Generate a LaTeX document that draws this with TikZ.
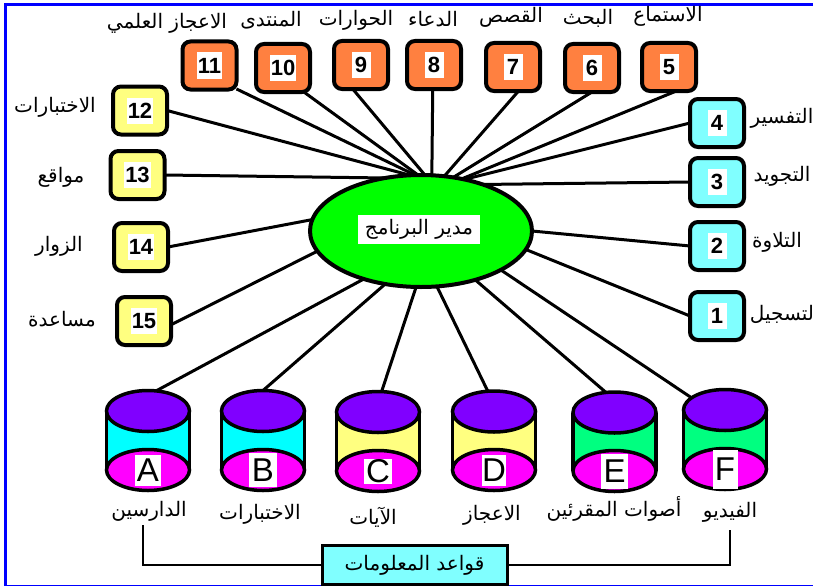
\documentclass[tikz,border=0pt]{standalone}
\usepackage{fontspec}
\newfontfamily\arabicfont[Script=Arabic]{DejaVu Sans}
\newfontfamily\latinfont{Liberation Sans}
\TeXXeTstate=1
\usetikzlibrary{backgrounds}
\usetikzlibrary{shapes.geometric}
\definecolor{orangebox}{HTML}{FF8040}
\definecolor{cyanlt}{HTML}{80FFFF}
\definecolor{yellowlt}{HTML}{FFFF80}
\definecolor{storecyan}{HTML}{00FFFF}
\definecolor{storegreen}{HTML}{00FF80}
\definecolor{violetdb}{HTML}{8000FF}
\definecolor{magentadb}{HTML}{FF00FF}
\definecolor{mgrgreen}{HTML}{00FF00}
\definecolor{framblue}{HTML}{0000FF}
\newcommand{\ar}[1]{{\arabicfont\beginR #1\endR}}

\begin{document}
\begin{tikzpicture}[x=1pt,y=-1pt,inner sep=0pt,outer sep=0pt,
numblock/.style={draw,rectangle,rounded corners=8pt,line width=4pt,minimum width=54pt,minimum height=48pt},
numtext/.style={fill=white,font=\latinfont\bfseries\fontsize{22}{24}\selectfont,inner xsep=1pt,minimum height=26pt,minimum width=19pt},
arlabel/.style={font=\fontsize{20}{24}\selectfont},
spoke/.style={line width=3pt},
dbdisk/.style={draw,ellipse,line width=3.5pt,minimum width=83pt,minimum height=41pt},
dbletter/.style={fill=white,font=\latinfont\fontsize{33}{36}\selectfont}]

\useasboundingbox (0,0) rectangle (813,586);

% frame
\fill[framblue] (4,3) rectangle (813,6);
\fill[framblue] (4,3) rectangle (7,586);
\fill[framblue] (4,584.5) rectangle (813,586);

% manager
\node[draw,ellipse,line width=4pt,fill=mgrgreen,minimum width=222pt,minimum height=112pt] (mgr) at (421,231) {};
\node[fill=white,minimum width=122pt,minimum height=29pt,arlabel] (mgrtext) at (419,229) {\ar{مدير البرنامج}};

% numbered boxes
\foreach \nm/\x/\y/\col in {11/209.5/65.5/orangebox,10/283/68/orangebox,9/361/65/orangebox,8/434/65/orangebox,7/513/67/orangebox,6/592/68/orangebox,5/669/67/orangebox,
  4/717/123/cyanlt,3/717/182/cyanlt,2/717/246/cyanlt,1/717/316/cyanlt,
  12/140/110.5/yellowlt,13/137.5/175/yellowlt,14/141/247/yellowlt,15/144/321/yellowlt}
{
  \node[numblock,fill=\col] (b\nm) at (\x,\y) {};
  \node[numtext] (n\nm) at (b\nm) {\nm};
}

% labels of the boxes
\node[arlabel] (l11) at (167,23) {\ar{الاعجاز العلمي}};
\node[arlabel] (l10) at (271,20) {\ar{المنتدى}};
\node[arlabel] (l9) at (356,20) {\ar{الحوارات}};
\node[arlabel] (l8) at (433,19) {\ar{الدعاء}};
\node[arlabel] (l7) at (511,17) {\ar{القصص}};
\node[arlabel] (l6) at (588,18) {\ar{البحث}};
\node[arlabel] (l5) at (668,16) {\ar{الاستماع}};
\node[arlabel] (l4) at (782,118) {\ar{التفسير}};
\node[arlabel] (l3) at (782,176) {\ar{التجويد}};
\node[arlabel] (l2) at (777,242) {\ar{التلاوة}};
\node[arlabel] (l1) at (782,314) {\ar{لتسجيل}};
\node[arlabel] (l12) at (55,107) {\ar{الاختبارات}};
\node[arlabel] (l13) at (61,177) {\ar{مواقع}};
\node[arlabel] (l14) at (59,246) {\ar{الزوار}};
\node[arlabel] (l15) at (62,319) {\ar{مساعدة}};

% data stores
\foreach \nm/\x/\ya/\yb/\col/\lw/\lh in {A/148/411/470/storecyan/26/31,B/263/411/470/storecyan/28/34,C/378/412/471/yellowlt/28/25,D/494/411.5/470/yellowlt/24/31,E/614.5/412.5/471/storegreen/27/35,F/725/410/469/storegreen/25/39}
{
  \fill[\col] (\x-41.5,\ya) rectangle (\x+41.5,\yb);
  \draw[line width=3.5pt] (\x-41.5,\ya) -- (\x-41.5,\yb) (\x+41.5,\ya) -- (\x+41.5,\yb);
  \node[dbdisk,fill=violetdb] (top\nm) at (\x,\ya) {};
  \node[dbdisk,fill=magentadb] (bot\nm) at (\x,\yb) {};
  \node[dbletter,minimum width=\lw pt,minimum height=\lh pt] (let\nm) at (bot\nm) {\nm};
}

\node[arlabel] (dA) at (149,511) {\ar{الدارسين}};
\node[arlabel] (dB) at (260,514) {\ar{الاختبارات}};
\node[arlabel] (dC) at (373,517) {\ar{الآيات}};
\node[arlabel] (dD) at (492,515) {\ar{الاعجاز}};
\node[arlabel] (dE) at (614,509) {\ar{أصوات المقرئين}};
\node[arlabel] (dF) at (730,512) {\ar{الفيديو}};

% information bases
\node[draw,rectangle,line width=3pt,fill=cyanlt,minimum width=185pt,minimum height=39pt,arlabel] (kb) at (414.5,565) {\ar{قواعد المعلومات}};
\coordinate (kbl) at (143,525);
\coordinate (kbr) at (730,530);
\draw[line width=2pt] (kbl) |- (kb.west);
\draw[line width=2pt] (kbr) |- (kb.east);

% spokes
\begin{scope}[on background layer]
\draw[spoke] (b11.-41) -- (mgr.96);
\draw[spoke] (b10.-49) -- (mgr.93);
\draw[spoke] (b9.251) -- (mgr.86);
\draw[spoke] (b8.267) -- (mgr.79);
\draw[spoke] (b7.-77) -- (mgr.67);
\draw[spoke] (b6.south) -- (mgr.59);
\draw[spoke] (b5.-73) -- (mgr.52);
\draw[spoke] (b4.west) -- (mgr.50);
\draw[spoke] (b3.west) -- (mgr.37);
\draw[spoke] (b2.west) -- (mgr.0);
\draw[spoke] (b1.west) -- (mgr.-10);
\draw[spoke] (b12.east) -- (mgr.101);
\draw[spoke] (b13.east) -- (mgr.124);
\draw[spoke] (b14.east) -- (mgr.174);
\draw[spoke] (b15.-8) -- (mgr.191);
\draw[spoke] (topA.68) -- (mgr.220);
\draw[spoke] (topB.north) -- (mgr.236);
\draw[spoke] (topC.80) -- (mgr.265);
\draw[spoke] (topD.107) -- (mgr.286);
\draw[spoke] (topE.113) -- (mgr.318);
\draw[spoke] (topF.160) -- (mgr.334);
\end{scope}
\end{tikzpicture}
\end{document}
